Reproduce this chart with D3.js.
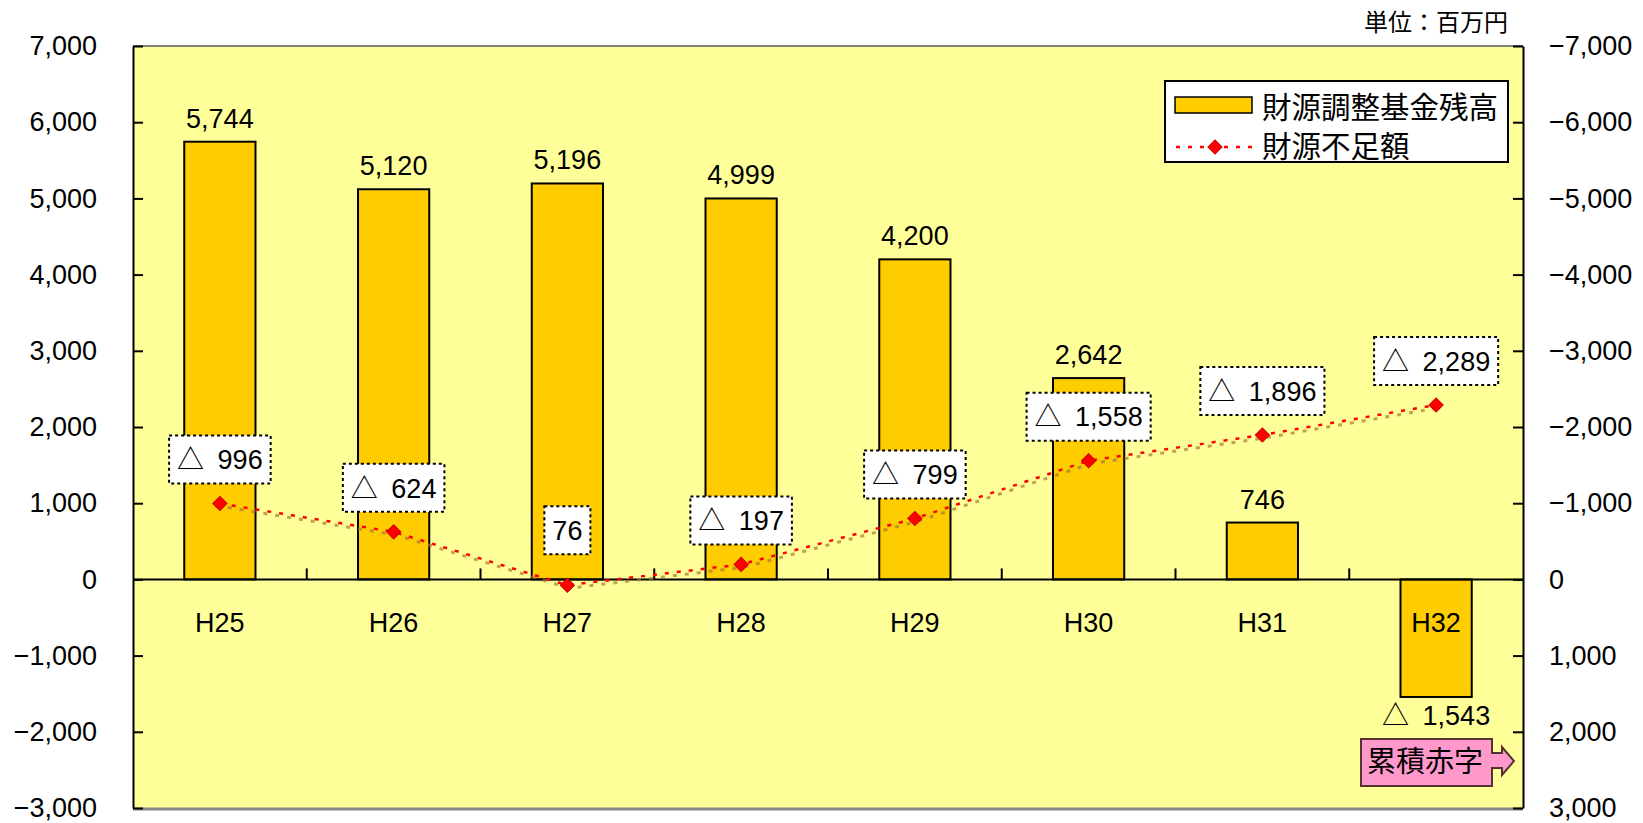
<!DOCTYPE html>
<html lang="ja">
<head>
<meta charset="utf-8">
<script src="https://cdn.jsdelivr.net/npm/d3@7/dist/d3.min.js"></script>
<style>
  html, body { margin: 0; padding: 0; background: #fff; }
  svg { display: block; }
  text { font-family: "Liberation Sans", "Noto Sans CJK JP", sans-serif; fill: #000; }
  .jp { font-family: "Noto Sans CJK JP", sans-serif; }
</style>
</head>
<body>
<svg id="chart" width="1643" height="823"></svg>
<script>
// 年度
const categories = ["H25", "H26", "H27", "H28", "H29", "H30", "H31", "H32"];
// 財源調整基金残高（百万円）
const fundBalance = [5744, 5120, 5196, 4999, 4200, 2642, 746, -1543];
// 財源不足額（百万円、マイナスは不足）
const shortfall = [-996, -624, 76, -197, -799, -1558, -1896, -2289];
// 目盛
const leftTicks = [-3000, -2000, -1000, 0, 1000, 2000, 3000, 4000, 5000, 6000, 7000];
const rightTicks = [-7000, -6000, -5000, -4000, -3000, -2000, -1000, 0, 1000, 2000, 3000];

const svg = d3.select("#chart");
const plot = { left: 133, right: 1523, top: 46, bottom: 808 };

const x = d3.scaleBand()
  .domain(categories)
  .range([plot.left, plot.right])
  .paddingInner(0.59)
  .paddingOuter(0.295);
const step = x.step();
const cx = c => x(c) + x.bandwidth() / 2;

const yL = d3.scaleLinear().domain([-3000, 7000]).range([plot.bottom, plot.top]);
const yR = d3.scaleLinear().domain([3000, -7000]).range([plot.bottom, plot.top]);

const fmt = d3.format(",");
const tri = v => v < 0 ? "△\u2002" + fmt(-v) : fmt(v);

// プロットエリア
svg.append("rect")
  .attr("x", plot.left).attr("y", plot.top)
  .attr("width", plot.right - plot.left).attr("height", plot.bottom - plot.top)
  .attr("fill", "#FFFF99");
svg.append("line")
  .attr("x1", plot.left).attr("x2", plot.right)
  .attr("y1", plot.top).attr("y2", plot.top)
  .attr("stroke", "#808080").attr("stroke-width", 2);
svg.append("line")
  .attr("x1", plot.left).attr("x2", plot.right)
  .attr("y1", plot.bottom + 1).attr("y2", plot.bottom + 1)
  .attr("stroke", "#8a8a8a").attr("stroke-width", 3);

// 縦軸（左）
const axL = svg.append("g")
  .attr("transform", `translate(${plot.left},0)`)
  .call(d3.axisLeft(yL).tickValues(leftTicks).tickFormat(fmt)
    .tickSizeInner(-10).tickSizeOuter(0).tickPadding(36));
// 縦軸（右）
const axR = svg.append("g")
  .attr("transform", `translate(${plot.right},0)`)
  .call(d3.axisRight(yR).tickValues(rightTicks).tickFormat(fmt)
    .tickSizeInner(-10).tickSizeOuter(0).tickPadding(26));
[axL, axR].forEach(ax => {
  ax.select(".domain").attr("stroke", "#000").attr("stroke-width", 2);
  ax.selectAll(".tick line").attr("stroke", "#000").attr("stroke-width", 2);
  ax.selectAll(".tick text").attr("font-size", 27).style("font-family", "'Liberation Sans', sans-serif");
});

// 棒グラフ
svg.append("g").selectAll("rect")
  .data(fundBalance)
  .join("rect")
  .attr("x", (d, i) => x(categories[i]))
  .attr("width", x.bandwidth())
  .attr("y", d => yL(Math.max(0, d)))
  .attr("height", d => Math.abs(yL(d) - yL(0)))
  .attr("fill", "#FFCC00")
  .attr("stroke", "#000")
  .attr("stroke-width", 2);

// 0 の線と区切り目盛
const y0 = yL(0);
svg.append("line")
  .attr("x1", plot.left).attr("x2", plot.right)
  .attr("y1", y0).attr("y2", y0)
  .attr("stroke", "#000").attr("stroke-width", 2);
svg.append("g").selectAll("line")
  .data(categories.slice(1))
  .join("line")
  .attr("x1", d => cx(d) - step / 2)
  .attr("x2", d => cx(d) - step / 2)
  .attr("y1", y0).attr("y2", y0 - 11)
  .attr("stroke", "#000").attr("stroke-width", 2);

// 年度ラベル
svg.append("g").selectAll("text")
  .data(categories)
  .join("text")
  .attr("x", d => cx(d))
  .attr("y", 632)
  .attr("text-anchor", "middle")
  .attr("font-size", 27)
  .text(d => d);

// 棒の値ラベル
svg.append("g").selectAll("text")
  .data(fundBalance)
  .join("text")
  .attr("x", (d, i) => cx(categories[i]))
  .attr("y", d => d >= 0 ? yL(d) - 14 : yL(d) + 28)
  .attr("text-anchor", "middle")
  .attr("font-size", 27)
  .text(d => tri(d));

// 財源不足額の折れ線
const pts = shortfall.map((v, i) => [cx(categories[i]), yR(v)]);
const lineGen = d3.line();
svg.append("path")
  .attr("d", lineGen(pts))
  .attr("transform", "translate(2,3)")
  .attr("fill", "none")
  .attr("stroke", "#a5793a")
  .attr("stroke-opacity", 0.7)
  .attr("stroke-width", 3)
  .attr("stroke-dasharray", "4,8")
  .attr("stroke-dashoffset", 6);
svg.append("path")
  .attr("d", lineGen(pts))
  .attr("fill", "none")
  .attr("stroke", "#FF0000")
  .attr("stroke-width", 2.5)
  .attr("stroke-dasharray", "4,8");
svg.append("g").selectAll("path")
  .data(pts)
  .join("path")
  .attr("d", d3.symbol().type(d3.symbolSquare).size(100))
  .attr("transform", d => `translate(${d[0]},${d[1]}) rotate(45)`)
  .attr("fill", "#FF0000")
  .attr("stroke", "#D00000")
  .attr("stroke-width", 1);

// 折れ線の値ラベル（点線枠）
const lbl = svg.append("g").selectAll("g")
  .data(shortfall)
  .join("g")
  .attr("transform", (d, i) => `translate(${pts[i][0]},${pts[i][1] - (d > 0 ? 31 : 20) - 24})`);
lbl.append("rect").attr("class", "box");
lbl.append("text")
  .attr("text-anchor", "middle")
  .attr("dy", "0.36em")
  .attr("font-size", 27)
  .text(d => tri(d));
lbl.each(function () {
  const g = d3.select(this);
  const bb = g.select("text").node().getBBox();
  const w = bb.width + 16;
  g.select("rect")
    .attr("x", -w / 2).attr("y", -24)
    .attr("width", w).attr("height", 48)
    .attr("fill", "#fff")
    .attr("stroke", "#000")
    .attr("stroke-width", 2)
    .attr("stroke-dasharray", "3,3");
});

// 凡例
const lg = svg.append("g");
lg.append("rect")
  .attr("x", 1165).attr("y", 81).attr("width", 343).attr("height", 81)
  .attr("fill", "#fff").attr("stroke", "#000").attr("stroke-width", 2);
lg.append("rect")
  .attr("x", 1175).attr("y", 97).attr("width", 77).attr("height", 16)
  .attr("fill", "#FFCC00").attr("stroke", "#000").attr("stroke-width", 1.5);
lg.append("text").attr("class", "jp")
  .attr("x", 1262).attr("y", 107).attr("dy", "0.36em")
  .attr("font-size", 29.5).text("財源調整基金残高");
lg.append("line")
  .attr("x1", 1176).attr("x2", 1252).attr("y1", 147).attr("y2", 147)
  .attr("stroke", "#FF0000").attr("stroke-width", 2.5).attr("stroke-dasharray", "4,8");
lg.append("path")
  .attr("d", d3.symbol().type(d3.symbolSquare).size(100))
  .attr("transform", "translate(1215,147) rotate(45)")
  .attr("fill", "#FF0000").attr("stroke", "#D00000");
lg.append("text").attr("class", "jp")
  .attr("x", 1262).attr("y", 146).attr("dy", "0.36em")
  .attr("font-size", 29.5).text("財源不足額");

// 単位
svg.append("text").attr("class", "jp")
  .attr("x", 1508).attr("y", 22).attr("dy", "0.36em")
  .attr("text-anchor", "end")
  .attr("font-size", 24).text("単位：百万円");

// 累積赤字の吹き出し
const co = svg.append("g");
co.append("path")
  .attr("d", "M1361,739 H1492 V753 H1502 V747 L1514,761 L1502,775 V768 H1492 V786 H1361 Z")
  .attr("fill", "#FF99CC").attr("stroke", "#553333").attr("stroke-width", 2);
co.append("text").attr("class", "jp")
  .attr("x", 1425).attr("y", 762).attr("dy", "0.36em")
  .attr("text-anchor", "middle")
  .attr("font-size", 29).text("累積赤字");
</script>
</body>
</html>
